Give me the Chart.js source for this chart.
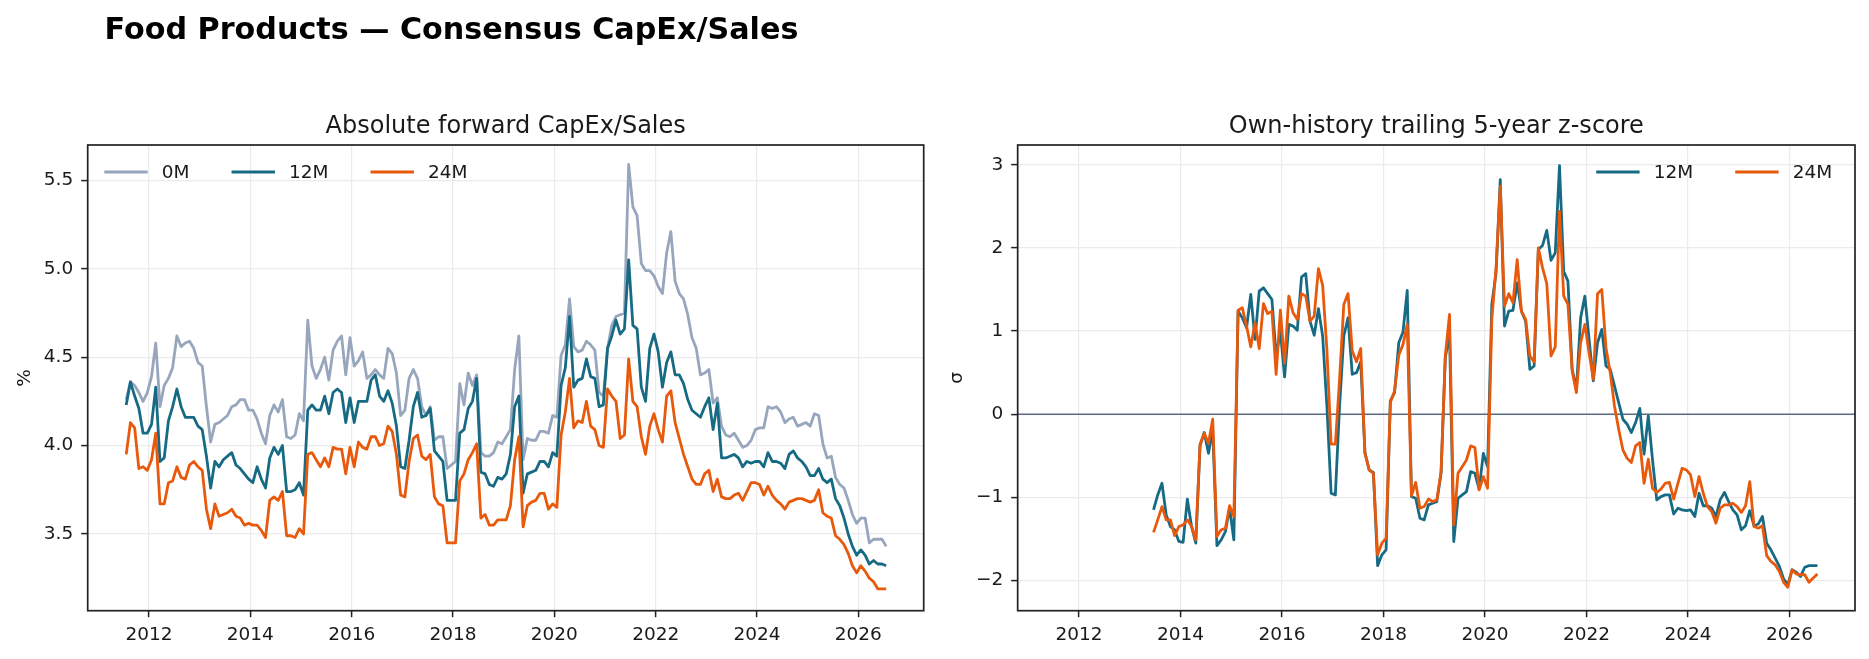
<!DOCTYPE html>
<html>
<head>
<meta charset="utf-8">
<script src="https://cdn.jsdelivr.net/npm/chart.js@4.4.1/dist/chart.umd.min.js"></script>
<style>
html,body{margin:0;padding:0;background:#fff;}
#wrap{position:relative;width:1869px;height:659px;overflow:hidden;background:#fff;}
canvas{position:absolute;top:0;}
#c1{left:0;}
#c2{left:930px;}
</style>
</head>
<body>
<div id="wrap">
<canvas id="c1" width="930" height="659"></canvas>
<canvas id="c2" width="939" height="659"></canvas>
</div>
<script>
// ---------------- DATA ----------------
const FIG_TITLE = 'Food Products — Consensus CapEx/Sales';
const LEFT_TITLE = 'Absolute forward CapEx/Sales';
const RIGHT_TITLE = 'Own-history trailing 5-year z-score';
const LEFT_YLABEL = '%';
const RIGHT_YLABEL = 'σ';

// monthly observations, Jul 2011 .. Jul 2026
const START_YEAR = 2011, START_MONTH = 7, N_MONTHS = 181;
const months = [];
for (let k = 0; k < N_MONTHS; k++) {
  const m0 = START_MONTH - 1 + k;
  const y = START_YEAR + Math.floor(m0 / 12), m = (m0 % 12) + 1;
  months.push(y + '-' + String(m).padStart(2, '0'));
}

const capex0M = [
  4.26, 4.36, 4.34, 4.30, 4.25, 4.30, 4.39, 4.58, 4.22, 4.34, 4.38, 4.44,
  4.62, 4.56, 4.58, 4.59, 4.55, 4.47, 4.45, 4.22, 4.02, 4.12, 4.13, 4.15,
  4.17, 4.22, 4.23, 4.26, 4.26, 4.20, 4.20, 4.15, 4.07, 4.01, 4.17, 4.23,
  4.19, 4.26, 4.05, 4.04, 4.06, 4.18, 4.14, 4.71, 4.45, 4.38, 4.43, 4.50,
  4.37, 4.54, 4.59, 4.62, 4.40, 4.61, 4.45, 4.48, 4.53, 4.38, 4.40, 4.43,
  4.40, 4.38, 4.55, 4.52, 4.41, 4.17, 4.20, 4.38, 4.43, 4.38, 4.22, 4.17,
  4.22, 4.03, 4.05, 4.05, 3.87, 3.89, 3.91, 4.35, 4.23, 4.41, 4.34, 4.40,
  3.96, 3.94, 3.94, 3.96, 4.02, 4.01, 4.05, 4.09, 4.43, 4.62, 3.92, 4.04,
  4.03, 4.03, 4.08, 4.08, 4.07, 4.17, 4.16, 4.51, 4.57, 4.83, 4.56, 4.53,
  4.54, 4.59, 4.57, 4.54, 4.30, 4.28, 4.55, 4.68, 4.73, 4.74, 4.75, 5.59,
  5.35, 5.30, 5.03, 4.99, 4.99, 4.96, 4.90, 4.86, 5.09, 5.21, 4.93, 4.86,
  4.83, 4.74, 4.61, 4.55, 4.40, 4.41, 4.43, 4.24, 4.27, 4.11, 4.06, 4.05,
  4.07, 4.03, 3.99, 4.00, 4.03, 4.09, 4.10, 4.10, 4.22, 4.21, 4.22, 4.19,
  4.13, 4.15, 4.16, 4.11, 4.12, 4.13, 4.11, 4.18, 4.17, 4.01, 3.93, 3.94,
  3.82, 3.78, 3.76, 3.69, 3.61, 3.56, 3.59, 3.59, 3.45, 3.47, 3.47, 3.47,
  3.43
];

const capex12M = [
  4.23, 4.36, 4.28, 4.21, 4.07, 4.07, 4.12, 4.33, 3.91, 3.93, 4.14, 4.22,
  4.32, 4.22, 4.16, 4.16, 4.16, 4.11, 4.09, 3.94, 3.76, 3.91, 3.88, 3.92,
  3.94, 3.96, 3.89, 3.87, 3.84, 3.81, 3.79, 3.88, 3.81, 3.76, 3.93, 3.99,
  3.95, 4.00, 3.74, 3.74, 3.75, 3.79, 3.72, 4.20, 4.23, 4.20, 4.20, 4.28,
  4.18, 4.30, 4.32, 4.30, 4.13, 4.27, 4.13, 4.25, 4.25, 4.25, 4.37, 4.40,
  4.28, 4.25, 4.31, 4.24, 4.11, 3.88, 3.87, 4.03, 4.22, 4.30, 4.16, 4.17,
  4.21, 3.97, 3.94, 3.91, 3.69, 3.69, 3.69, 4.07, 4.09, 4.21, 4.25, 4.38,
  3.85, 3.84, 3.78, 3.77, 3.82, 3.81, 3.84, 3.95, 4.22, 4.28, 3.73, 3.84,
  3.85, 3.86, 3.91, 3.91, 3.88, 3.96, 3.94, 4.34, 4.44, 4.73, 4.33, 4.37,
  4.38, 4.49, 4.39, 4.38, 4.22, 4.23, 4.55, 4.62, 4.71, 4.63, 4.66, 5.05,
  4.68, 4.66, 4.33, 4.25, 4.55, 4.63, 4.53, 4.33, 4.47, 4.53, 4.40, 4.40,
  4.35, 4.26, 4.20, 4.18, 4.16, 4.22, 4.27, 4.09, 4.24, 3.93, 3.93, 3.94,
  3.95, 3.93, 3.88, 3.91, 3.90, 3.91, 3.91, 3.88, 3.96, 3.91, 3.91, 3.90,
  3.87, 3.95, 3.97, 3.93, 3.91, 3.88, 3.83, 3.83, 3.87, 3.81, 3.79, 3.81,
  3.70, 3.66, 3.59, 3.50, 3.43, 3.38, 3.41, 3.38, 3.33, 3.35, 3.33, 3.33,
  3.32
];

const capex24M = [
  3.95, 4.13, 4.10, 3.87, 3.88, 3.86, 3.92, 4.07, 3.67, 3.67, 3.79, 3.80,
  3.88, 3.82, 3.81, 3.89, 3.91, 3.88, 3.86, 3.64, 3.53, 3.67, 3.60, 3.61,
  3.62, 3.64, 3.60, 3.59, 3.55, 3.56, 3.55, 3.55, 3.52, 3.48, 3.69, 3.71,
  3.69, 3.74, 3.49, 3.49, 3.48, 3.53, 3.50, 3.95, 3.96, 3.92, 3.88, 3.93,
  3.88, 3.99, 3.98, 3.98, 3.84, 3.99, 3.88, 4.02, 3.99, 3.98, 4.05, 4.05,
  4.00, 4.01, 4.11, 4.08, 3.95, 3.72, 3.71, 3.91, 4.04, 4.06, 3.94, 3.92,
  3.95, 3.71, 3.67, 3.66, 3.45, 3.45, 3.45, 3.80, 3.84, 3.92, 3.96, 4.01,
  3.59, 3.61, 3.55, 3.55, 3.58, 3.58, 3.58, 3.66, 3.92, 4.05, 3.54, 3.66,
  3.68, 3.69, 3.73, 3.73, 3.64, 3.67, 3.65, 4.06, 4.19, 4.38, 4.10, 4.14,
  4.13, 4.25, 4.11, 4.09, 4.00, 3.99, 4.32, 4.28, 4.25, 4.04, 4.06, 4.49,
  4.25, 4.22, 4.05, 3.95, 4.11, 4.18, 4.09, 4.02, 4.28, 4.31, 4.13, 4.04,
  3.95, 3.88, 3.81, 3.78, 3.78, 3.84, 3.86, 3.74, 3.81, 3.71, 3.70, 3.70,
  3.72, 3.73, 3.69, 3.74, 3.79, 3.79, 3.78, 3.72, 3.77, 3.72, 3.69, 3.67,
  3.64, 3.68, 3.69, 3.70, 3.70, 3.69, 3.68, 3.69, 3.75, 3.62, 3.60, 3.59,
  3.49, 3.47, 3.44, 3.39, 3.32, 3.28, 3.32, 3.29, 3.25, 3.23, 3.19, 3.19,
  3.19
];

const z12M = [
  null, null, null, null, null, null, null, null, null, null, null, null,
  null, null, null, null, null, null, null, null, null, null, null, -1.15,
  -0.97, -0.83, -1.21, -1.35, -1.39, -1.53, -1.54, -1.02, -1.35, -1.55, -0.38, -0.22,
  -0.47, -0.18, -1.58, -1.51, -1.41, -1.13, -1.51, 1.24, 1.16, 1.04, 1.44, 0.90,
  1.48, 1.52, 1.45, 1.38, 0.70, 1.00, 0.45, 1.08, 1.06, 1.01, 1.65, 1.69,
  1.12, 0.95, 1.27, 0.94, 0.10, -0.95, -0.97, 0.10, 0.94, 1.16, 0.48, 0.50,
  0.63, -0.46, -0.67, -0.70, -1.82, -1.69, -1.63, 0.16, 0.26, 0.86, 0.99, 1.49,
  -0.99, -1.01, -1.25, -1.27, -1.09, -1.07, -1.05, -0.71, 0.68, 0.98, -1.53, -1.01,
  -0.97, -0.93, -0.69, -0.71, -0.90, -0.47, -0.63, 1.32, 1.70, 2.82, 1.06, 1.24,
  1.25, 1.58, 1.24, 1.12, 0.54, 0.58, 1.98, 2.03, 2.21, 1.85, 1.94, 2.99,
  1.72, 1.60, 0.54, 0.30, 1.16, 1.42, 0.90, 0.40, 0.86, 1.02, 0.58, 0.54,
  0.34, 0.14, -0.06, -0.12, -0.22, -0.10, 0.07, -0.48, -0.02, -0.55, -1.03, -0.99,
  -0.97, -0.97, -1.20, -1.13, -1.15, -1.16, -1.15, -1.23, -0.95, -1.10, -1.10, -1.13,
  -1.23, -1.03, -0.94, -1.05, -1.15, -1.21, -1.39, -1.34, -1.16, -1.34, -1.32, -1.23,
  -1.55, -1.63, -1.73, -1.83, -1.98, -2.05, -1.87, -1.90, -1.95, -1.84, -1.82, -1.82,
  -1.82
];

const z24M = [
  null, null, null, null, null, null, null, null, null, null, null, null,
  null, null, null, null, null, null, null, null, null, null, null, -1.42,
  -1.27, -1.11, -1.27, -1.27, -1.46, -1.35, -1.33, -1.27, -1.35, -1.51, -0.36, -0.23,
  -0.35, -0.06, -1.47, -1.39, -1.37, -1.10, -1.23, 1.25, 1.28, 1.06, 0.81, 1.10,
  0.79, 1.33, 1.21, 1.24, 0.48, 1.25, 0.61, 1.42, 1.22, 1.14, 1.45, 1.42,
  1.12, 1.18, 1.75, 1.55, 0.78, -0.36, -0.36, 0.42, 1.32, 1.45, 0.76, 0.63,
  0.79, -0.47, -0.67, -0.71, -1.69, -1.55, -1.49, 0.14, 0.28, 0.71, 0.84, 1.08,
  -0.98, -0.82, -1.13, -1.11, -1.02, -1.05, -1.03, -0.69, 0.70, 1.20, -1.33, -0.71,
  -0.63, -0.55, -0.38, -0.40, -0.91, -0.75, -0.89, 1.14, 1.76, 2.74, 1.30, 1.45,
  1.34, 1.86, 1.24, 1.14, 0.70, 0.63, 2.00, 1.76, 1.57, 0.70, 0.81, 2.44,
  1.42, 1.32, 0.52, 0.26, 0.86, 1.08, 0.74, 0.42, 1.45, 1.50, 0.80, 0.50,
  0.10, -0.18, -0.43, -0.53, -0.58, -0.38, -0.34, -0.83, -0.54, -0.89, -0.94, -0.90,
  -0.83, -0.82, -1.02, -0.83, -0.65, -0.67, -0.73, -0.99, -0.75, -0.95, -1.11, -1.17,
  -1.31, -1.13, -1.09, -1.09, -1.07, -1.11, -1.18, -1.10, -0.81, -1.35, -1.37, -1.34,
  -1.70, -1.77, -1.81, -1.89, -2.02, -2.08, -1.87, -1.92, -1.93, -1.93, -2.02, -1.97,
  -1.92
];

const xTicks = [2012, 2014, 2016, 2018, 2020, 2022, 2024, 2026];
const xTickLabels = ['2012', '2014', '2016', '2018', '2020', '2022', '2024', '2026'];
const leftYTicks = [3.5, 4.0, 4.5, 5.0, 5.5];
const leftYTickLabels = ['3.5', '4.0', '4.5', '5.0', '5.5'];
const rightYTicks = [-2, -1, 0, 1, 2, 3];
const rightYTickLabels = ['−2', '−1', '0', '1', '2', '3'];

// ---------------- STYLE ----------------
const FONT = '"DejaVu Sans", "Liberation Sans", sans-serif';
const C0 = '#98a6bd', C12 = '#176a84', C24 = '#e8590c';
const LW = 2.8;
const TEXT = '#1a1a1a';
const SPINE = '#222222';
const GRID = '#ebebeb';

function monthToX(s) {
  const [y, m] = s.split('-').map(Number);
  return y + (m - 1 + 0.6) / 12;
}
const monthX = months.map(monthToX);
function pts(arr) { return arr.map((v, i) => ({ x: monthX[i], y: v })); }

function ds(label, arr, color, order) {
  return { label, data: pts(arr), borderColor: color, backgroundColor: color,
    borderWidth: LW, pointRadius: 0, pointHoverRadius: 0, tension: 0, fill: false,
    spanGaps: false, order, borderJoinStyle: 'round', borderCapStyle: 'butt' };
}

function drawLegend(chart, align) {
  const ctx = chart.ctx, a = chart.chartArea;
  const items = chart.data.datasets.map(d => ({ label: d.label, color: d.borderColor }));
  ctx.save();
  ctx.font = '18.5px ' + FONT;
  const handleLen = 43.4, textOff = 57.5, colSp = 42;
  const widths = items.map(it => ctx.measureText(it.label).width);
  let total = 0;
  items.forEach((it, i) => { total += textOff + widths[i] + (i < items.length - 1 ? colSp : 0); });
  let x = align === 'left' ? a.left + 16.6 : a.right - 22.8 - total;
  const y = a.top + 27;
  items.forEach((it, i) => {
    ctx.strokeStyle = it.color; ctx.lineWidth = LW; ctx.lineCap = 'butt';
    ctx.beginPath(); ctx.moveTo(x, y); ctx.lineTo(x + handleLen, y); ctx.stroke();
    ctx.fillStyle = TEXT; ctx.textAlign = 'left'; ctx.textBaseline = 'middle';
    ctx.fillText(it.label, x + textOff, y + 1.4);
    x += textOff + widths[i] + colSp;
  });
  ctx.restore();
}

function decorPlugin(cfg) {
  return {
    id: 'decor',
    beforeDatasetsDraw(chart) {
      if (cfg.zeroLine) {
        const ctx = chart.ctx, a = chart.chartArea;
        const yp = chart.scales.y.getPixelForValue(0);
        ctx.save();
        ctx.strokeStyle = '#5d6b85'; ctx.lineWidth = 1.5;
        ctx.beginPath(); ctx.moveTo(a.left, yp); ctx.lineTo(a.right, yp); ctx.stroke();
        ctx.restore();
      }
    },
    afterDatasetsDraw(chart) {
      const ctx = chart.ctx, a = chart.chartArea;
      ctx.save();
      ctx.strokeStyle = SPINE; ctx.lineWidth = 1.7;
      ctx.strokeRect(a.left, a.top, a.right - a.left, a.bottom - a.top);
      ctx.restore();
    },
    afterDraw(chart) {
      const ctx = chart.ctx, a = chart.chartArea;
      ctx.save();
      if (cfg.figTitle) {
        ctx.fillStyle = '#000';
        ctx.font = 'bold 30.2px ' + FONT;
        ctx.textAlign = 'left'; ctx.textBaseline = 'alphabetic';
        ctx.fillText(cfg.figTitle, 104.6, 38.5);
      }
      ctx.fillStyle = TEXT;
      ctx.font = '24px ' + FONT;
      ctx.textAlign = 'center'; ctx.textBaseline = 'alphabetic';
      ctx.fillText(cfg.title, (a.left + a.right) / 2, a.top - 11.7);
      ctx.font = '18.5px ' + FONT;
      ctx.translate(a.left + cfg.ylabelOffset, (a.top + a.bottom) / 2);
      ctx.rotate(-Math.PI / 2);
      ctx.textAlign = 'center'; ctx.textBaseline = 'alphabetic';
      ctx.fillText(cfg.ylabel, 0, 0);
      ctx.restore();
      drawLegend(chart, cfg.legendAlign);
    }
  };
}

function makeChart(canvasId, datasets, opt) {
  return new Chart(document.getElementById(canvasId), {
    type: 'line',
    data: { datasets },
    options: {
      animation: false, responsive: false, devicePixelRatio: 1, events: [],
      layout: { padding: { left: 0, right: opt.padRight, top: 145, bottom: 0 } },
      plugins: { legend: { display: false }, title: { display: false }, tooltip: { enabled: false } },
      scales: {
        x: {
          type: 'linear', min: 2010.79, max: 2027.29,
          afterFit: s => { s.height = 48.3; },
          afterBuildTicks: s => { s.ticks = xTicks.map(v => ({ value: v })); },
          ticks: { callback: (v, i) => xTickLabels[i], font: { family: FONT, size: 18.5 }, color: TEXT,
                   padding: 7, maxRotation: 0, autoSkip: false },
          grid: { color: GRID, lineWidth: 1.2, drawTicks: true, tickLength: 6.5, tickColor: SPINE, tickWidth: 1.5 },
          border: { display: false }
        },
        y: {
          type: 'linear', min: opt.yMin, max: opt.yMax,
          afterFit: s => { s.width = opt.yWidth; },
          afterBuildTicks: s => { s.ticks = opt.yTicks.map(v => ({ value: v })); },
          ticks: { callback: (v, i) => opt.yTickLabels[i], font: { family: FONT, size: 18.5 }, color: TEXT,
                   padding: 8, autoSkip: false },
          grid: { color: GRID, lineWidth: 1.2, drawTicks: true, tickLength: 6.5, tickColor: SPINE, tickWidth: 1.5 },
          border: { display: false }
        }
      }
    },
    plugins: [decorPlugin(opt.decor)]
  });
}

makeChart('c1', [
  ds('0M', capex0M, C0, 2),
  ds('12M', capex12M, C12, 1),
  ds('24M', capex24M, C24, 0)
], {
  padRight: 930 - 923.7, yWidth: 87.7, yMin: 3.066, yMax: 5.70,
  yTicks: leftYTicks, yTickLabels: leftYTickLabels,
  decor: { figTitle: FIG_TITLE, title: LEFT_TITLE, ylabel: LEFT_YLABEL, ylabelOffset: -57.7, legendAlign: 'left', zeroLine: false }
});

makeChart('c2', [
  ds('12M', z12M, C12, 1),
  ds('24M', z24M, C24, 0)
], {
  padRight: 939 - 925, yWidth: 87.67, yMin: -2.362, yMax: 3.237,
  yTicks: rightYTicks, yTickLabels: rightYTickLabels,
  decor: { title: RIGHT_TITLE, ylabel: RIGHT_YLABEL, ylabelOffset: -56, legendAlign: 'right', zeroLine: true }
});
</script>
</body>
</html>
